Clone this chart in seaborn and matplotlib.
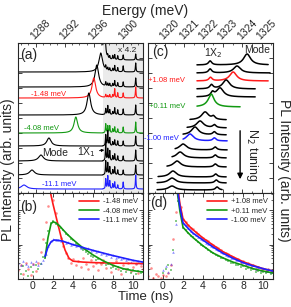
"""PL spectra (a, c) and time-resolved PL decays (b, d)."""
import numpy as np
import matplotlib
matplotlib.use("Agg")
import matplotlib.pyplot as plt
import seaborn as sns
from matplotlib.ticker import MultipleLocator, NullFormatter

sns.set_style("ticks")
plt.rcParams["font.family"] = ["Liberation Sans", "DejaVu Sans"]
plt.rcParams.update({
    "xtick.direction": "in", "ytick.direction": "in",
    "xtick.major.size": 3, "ytick.major.size": 3,
    "xtick.minor.size": 1.5, "ytick.minor.size": 1.5,
    "xtick.major.width": 0.6, "ytick.major.width": 0.6,
    "xtick.minor.width": 0.5, "ytick.minor.width": 0.5,
    "axes.linewidth": 0.8, "xtick.labelsize": 7.5, "ytick.labelsize": 7.5,
    "xtick.major.pad": 1.5,
})

RED = "#ff1a1a"
GREEN = "#129912"
BLUE = "#1f1fff"

# ---- (a) spectra: baseline offset, cavity mode peak, sharp QD lines in the grey window
A_BASE = [133, 121, 106, 95, 78, 60, 47, 32, 18, 4]
A_MODE_E = [1297.4, 1296.92, 1296.38, 1295.97, 1295.29, 1293.51, 1289.83, 1288.74, 1287.51, 1286.42]
A_MODE_H = [75, 19, 22, 20, 22, 16, 8, 6, 5, 4]
A_MODE_W = [0.1, 0.3, 0.3, 0.3, 0.3, 0.3, 0.35, 0.4, 0.4, 0.45]
A_COLORS = ["k", "k", "k", RED, "k", GREEN, "k", "k", "k", BLUE]
SPIKE_E = [1297.6, 1297.88, 1298.15, 1298.56, 1298.83, 1299.24, 1299.99, 1301.7]
SPIKE_H = [
    [0, 3, 3, 4, 5, 4, 5, 6],
    [4, 3, 3, 3, 6, 4, 6, 9],
    [4, 3, 3, 3, 6, 4, 5, 9],
    [3, 2, 3, 3, 9, 5, 5, 11],
    [6, 9, 5, 3, 7, 5, 6, 10],
    [9, 7, 7, 4, 6, 4, 6, 11],
    [11, 15, 8, 4, 6, 5, 5, 10],
    [18, 12, 10, 5, 7, 5, 5, 11],
    [14, 12, 8, 5, 8, 5, 5, 10],
    [10, 13, 8, 5, 7, 4, 7, 14],
]
GRAY_FROM = 1297.2

# ---- (c) spectra: each trace has its own energy window
C_BASE = [128, 120, 112, 104, 96, 86, 73, 65, 58, 52, 43, 35, 26, 16, 10, 3]
C_START = [1321.65, 1321.65, 1321.65, 1321.65, 1321.65, 1321.65, 1321.29, 1321.14,
           1320.93, 1320.93, 1320.52, 1320.36, 1320.1, 1319.64, 1319.59, 1319.59]
C_END = [1325.33, 1325.43, 1325.33, 1324.66, 1324.66, 1323.88, 1323.16, 1323.16,
         1323.16, 1323.21, 1323.21, 1323.16, 1323.16, 1323.16, 1323.16, 1322.95]
C_MODE_E = [1324.24, 1323.72, 1323.52, 1323.16, 1322.84, 1322.38, 1322.07, 1321.81,
            1321.55, 1321.29, 1320.93, 1320.78, 1320.62, 1320.41, 1320.36, 1320.36]
C_MODE_H = [11, 7, 9, 9, 9, 10, 8, 7, 8, 7, 6, 6, 6, 6, 5, 4]
C_X2_E = [1322.33, 1322.33, 1322.35, 1322.4, 1322.45, 1322.4, 1322.5, 1322.55,
          1322.55, 1322.55, 1322.59, 1322.6, 1322.6, 1322.62, 1322.65, 1322.69]
C_X2_H = [4, 4, 3.5, 4, 4, 3, 3, 3, 3, 3, 3, 3, 3, 3, 3, 3]
C_COLORS = ["k", "k", RED, "k", "k", GREEN, "k", "k", "k", BLUE, "k", "k", "k", "k", "k", "k"]

# ---- (b), (d) decays, sampled every 0.25 ns from -1.5 to 11 ns
T = np.arange(-1.5, 11.01, 0.25)
nan = np.nan
B_RED = [18, 25, 14, 30, 20, 13, 27, 17, 30, 60,
         150, 450, 1300, 3500, 2000, 850, 380, 160, 90, 58,
         42, 30, 38, 25, 33, 22, 40, 28, 19, 35,
         24, 30, 18, 27, 36, 21, 29, 16, 25, 33,
         20, 14, 26, 19, 30, 17, 23, 28, 15, 24, 20]
B_GREEN = [20, 14, 24, 17, 12, 22, 16, 26, 19, 28,
           45, 110, 250, 420, 480, 410, 370, 300, 260, 210,
           190, 150, 135, 105, 98, 80, 72, 60, 55, 46,
           44, 36, 38, 30, 29, 25, 27, 21, 23, 19,
           22, 17, 20, 16, 19, 15, 18, 14, 17, 15, 16]
B_BLUE = [30, 26, 33, 28, 24, 31, 27, 34, 25, 30,
          36, 55, 92, 125, 145, 132, 140, 125, 130, 112,
          118, 100, 106, 92, 95, 82, 86, 74, 78, 66,
          70, 60, 64, 55, 58, 50, 54, 45, 49, 42,
          45, 38, 41, 35, 38, 32, 36, 30, 33, 29, 31]
B_RED_FIT_T = [1.6, 1.75, 2.0, 2.4, 2.8, 3.2, 3.6, 4.0, 5.0, 6.0, 8.0, 11.0]
B_RED_FIT = [6000, 3200, 1500, 500, 170, 70, 40, 33, 31, 30, 29, 28]
B_GREEN_FIT_T = [1.2, 1.5, 1.8, 2.0, 2.3, 2.7, 3.0, 3.5, 4.0, 4.5, 5.0, 6.0, 7.0, 8.0, 9.0, 10.0, 11.0]
B_GREEN_FIT = [40, 160, 400, 460, 430, 340, 270, 190, 140, 105, 80, 50, 34, 25, 20, 17.5, 16]
B_BLUE_FIT_T = [1.2, 1.5, 1.8, 2.1, 2.5, 3.0, 4.0, 5.0, 6.0, 7.0, 8.0, 9.0, 10.0, 11.0]
B_BLUE_FIT = [45, 85, 120, 136, 134, 125, 100, 82, 68, 57, 48, 41, 35, 31]
B_LABELS = ["-1.48 meV", "-4.08 meV", "-11.1 meV"]

D_RED = [12, 21, 11, 14, 12, 11, 13, 12, 15, 25,
         150, 900, 3000, 1200, 560, 450, 380, 300, 280, 230,
         200, 170, 160, 135, 125, 105, 98, 84, 80, 68,
         63, 56, 54, 46, 45, 39, 38, 32, 33, 27,
         29, 23, 25, 20, 22, 18, 20, 17, 19, 16, 18]
D_GREEN = [nan] * 6 + [15, 20, 26, 18,
                       70, 500, 1800, 700, 310, 260, 220, 180, 165, 135,
                       120, 100, 92, 78, 72, 60, 57, 49, 47, 41,
                       40, 35, 34, 30, 30, 26, 26, 23, 24, 20,
                       21, 18, 19, 16.5, 17.5, 15, 16.5, 14.5, 15.5, 14, 15]
D_BLUE = [nan] * 6 + [18, 24, 16, 27,
                      60, 400, 2000, 900, 420, 360, 300, 250, 215, 185,
                      165, 145, 135, 115, 105, 92, 86, 75, 70, 60,
                      57, 50, 47, 41, 42, 35, 36, 30, 31, 26,
                      27, 22, 26, 19, 23, 18, 21, 17, 20, 16, 19]
D_FIT_T = [1.45, 1.7, 2.0, 2.5, 3.0, 4.0, 5.0, 6.0, 7.0, 8.0, 9.0, 10.0, 11.0]
D_RED_FIT = [5000, 1500, 560, 370, 270, 155, 97, 62, 44, 32, 25, 20, 17]
D_GREEN_FIT = [3000, 900, 320, 220, 160, 92, 57, 41, 31, 25, 20, 17, 15]
D_BLUE_FIT = [4000, 1200, 430, 300, 215, 135, 85, 56, 40, 30, 24, 20, 17]
D_LABELS = ["+1.08 meV", "+0.11 meV", "-1.00 meV"]


def lorentz(x, x0, h, w):
    return h / (1.0 + ((x - x0) / w) ** 2)


def line(ax, x, y, color, lw=0.8, label=None):
    sns.lineplot(x=x, y=y, ax=ax, color=color, lw=lw, estimator=None,
                 sort=False, label=label, legend=False)


def rotate_top_labels(ax):
    for lab in ax.get_xticklabels():
        lab.set_rotation(45)
        lab.set_ha("left")
        lab.set_va("bottom")
        lab.set_rotation_mode("anchor")


def decay_panel(ax, series, fits, labels):
    colors = [RED, GREEN, BLUE]
    markers = ["o", "s", "^"]
    for vals, c, m in zip(series, colors, markers):
        sns.scatterplot(x=T, y=vals, ax=ax, color=c, marker=m, s=3.5, alpha=0.5,
                        linewidth=0, legend=False)
    for (ft, fv), c, lab in zip(fits, colors, labels):
        line(ax, ft, fv, c, lw=1.2, label=lab)
    ax.set_yscale("log")
    ax.set_ylim(10, 3162)
    ax.set_xlim(-1.5, 11)
    ax.xaxis.set_major_locator(MultipleLocator(2))
    ax.xaxis.set_minor_locator(MultipleLocator(1))
    ax.yaxis.set_major_formatter(NullFormatter())
    ax.yaxis.set_minor_formatter(NullFormatter())
    ax.tick_params(which="both", top=True, right=True, labelleft=False)
    ax.set_xlabel("")
    ax.set_ylabel("")
    ax.legend(loc="upper right", fontsize=5.5, frameon=False, handlelength=2.6,
              labelspacing=0.25, borderaxespad=0.25, handletextpad=0.5)


fig = plt.figure(figsize=(2.91, 3.07), dpi=100)
ax_a = fig.add_axes([18 / 291, 114 / 307, 125 / 291, 150 / 307])
ax_b = fig.add_axes([18 / 291, 28 / 307, 125 / 291, 86 / 307])
ax_c = fig.add_axes([148 / 291, 114 / 307, 125 / 291, 150 / 307])
ax_d = fig.add_axes([148 / 291, 28 / 307, 125 / 291, 86 / 307])

# (a)
ax_a.axvspan(GRAY_FROM, 1303, color="#ebebeb", lw=0, zorder=0)
e_a = np.linspace(1285.5, 1302.8, 2000)
gray = e_a >= GRAY_FROM
for i in range(len(A_BASE)):
    y = A_BASE[i] + lorentz(e_a, A_MODE_E[i], A_MODE_H[i], A_MODE_W[i])
    for e0, h in zip(SPIKE_E, SPIKE_H[i]):
        y = y + np.where(gray, lorentz(e_a, e0, h, 0.05), 0)
    if i == 0:
        line(ax_a, e_a[gray], y[gray], A_COLORS[i])
    else:
        line(ax_a, e_a, y, A_COLORS[i])
ax_a.set_xlim(1285.6, 1302.7)
ax_a.set_ylim(0, 150)
ax_a.xaxis.set_major_locator(MultipleLocator(4))
ax_a.xaxis.set_minor_locator(MultipleLocator(1))
ax_a.yaxis.set_major_locator(MultipleLocator(15))
ax_a.yaxis.set_major_formatter(NullFormatter())
ax_a.tick_params(axis="x", which="both", top=True, bottom=True, labeltop=True, labelbottom=False)
ax_a.tick_params(axis="y", left=True, right=True, labelleft=False)
rotate_top_labels(ax_a)
ax_a.text(0.02, 0.92, "(a)", transform=ax_a.transAxes, fontsize=10, va="center")
ax_a.text(1300.5, 143, "x 4.2", fontsize=6, ha="center", va="center")
ax_a.text(1289.8, A_BASE[3] + 0.5, "-1.48 meV", color=RED, fontsize=5.5, ha="center", va="bottom")
ax_a.text(1288.8, A_BASE[5] + 0.5, "-4.08 meV", color=GREEN, fontsize=5.5, ha="center", va="bottom")
ax_a.text(1291.3, A_BASE[9] + 0.5, "-11.1 meV", color=BLUE, fontsize=5.5, ha="center", va="bottom")
ax_a.text(1290.65, 40.5, "Mode", fontsize=7.5, ha="center", va="center")
ax_a.annotate("1X$_1$", xy=(1297.4, 43), xytext=(1295.0, 40.5), fontsize=7.5,
              ha="center", va="center",
              arrowprops=dict(arrowstyle="-|>", color="k", lw=0.6, mutation_scale=4,
                              shrinkA=0, shrinkB=0))

# (c)
for i in range(len(C_BASE)):
    e = np.linspace(C_START[i], C_END[i], 400)
    y = (C_BASE[i] + lorentz(e, C_MODE_E[i], C_MODE_H[i], 0.22)
         + lorentz(e, C_X2_E[i], C_X2_H[i], 0.1))
    line(ax_c, e, y, C_COLORS[i], lw=1.1)
ax_c.set_xlim(1319.12, 1325.58)
ax_c.set_ylim(0, 150)
ax_c.xaxis.set_major_locator(MultipleLocator(1))
ax_c.xaxis.set_minor_locator(MultipleLocator(0.5))
ax_c.yaxis.set_major_locator(MultipleLocator(15))
ax_c.yaxis.set_major_formatter(NullFormatter())
ax_c.tick_params(axis="x", which="both", top=True, bottom=True, labeltop=True, labelbottom=False)
ax_c.tick_params(axis="y", left=True, right=True, labelleft=False)
rotate_top_labels(ax_c)
ax_c.text(0.03, 0.94, "(c)", transform=ax_c.transAxes, fontsize=10, va="center")
ax_c.text(1322.48, 140, "1X$_2$", fontsize=7.5, ha="center", va="center")
ax_c.text(1324.76, 143, "Mode", fontsize=7.5, ha="center", va="center")
ax_c.text(1320.1, C_BASE[2], "+1.08 meV", color=RED, fontsize=5.5, ha="center", va="center")
ax_c.text(1320.1, C_BASE[5], "+0.11 meV", color=GREEN, fontsize=5.5, ha="center", va="center")
ax_c.text(1319.84, C_BASE[9] + 3, "-1.00 meV", color=BLUE, fontsize=5.5, ha="center", va="center")
ax_c.annotate("", xy=(1323.88, 11), xytext=(1323.88, 65),
              arrowprops=dict(arrowstyle="-|>", color="k", lw=1.0, mutation_scale=8))
ax_c.text(1324.5, 38, "N$_2$ tuning", rotation=270, fontsize=9, ha="center", va="center")

# (b), (d)
decay_panel(ax_b, [B_RED, B_GREEN, B_BLUE],
            [(B_RED_FIT_T, B_RED_FIT), (B_GREEN_FIT_T, B_GREEN_FIT), (B_BLUE_FIT_T, B_BLUE_FIT)],
            B_LABELS)
decay_panel(ax_d, [D_RED, D_GREEN, D_BLUE],
            [(D_FIT_T, D_RED_FIT), (D_FIT_T, D_GREEN_FIT), (D_FIT_T, D_BLUE_FIT)],
            D_LABELS)
ax_b.text(0.02, 0.84, "(b)", transform=ax_b.transAxes, fontsize=10, va="center")
ax_d.text(0.02, 0.88, "(d)", transform=ax_d.transAxes, fontsize=10, va="center")

fig.text(0.5, 0.964, "Energy (meV)", fontsize=10, ha="center", va="center")
fig.text(0.5, 0.033, "Time (ns)", fontsize=9.5, ha="center", va="center")
fig.text(0.026, 0.446, "PL Intensity (arb. units)", fontsize=10, rotation=90,
         ha="center", va="center")
fig.text(0.975, 0.446, "PL Intensity (arb. units)", fontsize=10, rotation=270,
         ha="center", va="center")

fig.savefig("out.png", dpi=100)
plt.close(fig)
